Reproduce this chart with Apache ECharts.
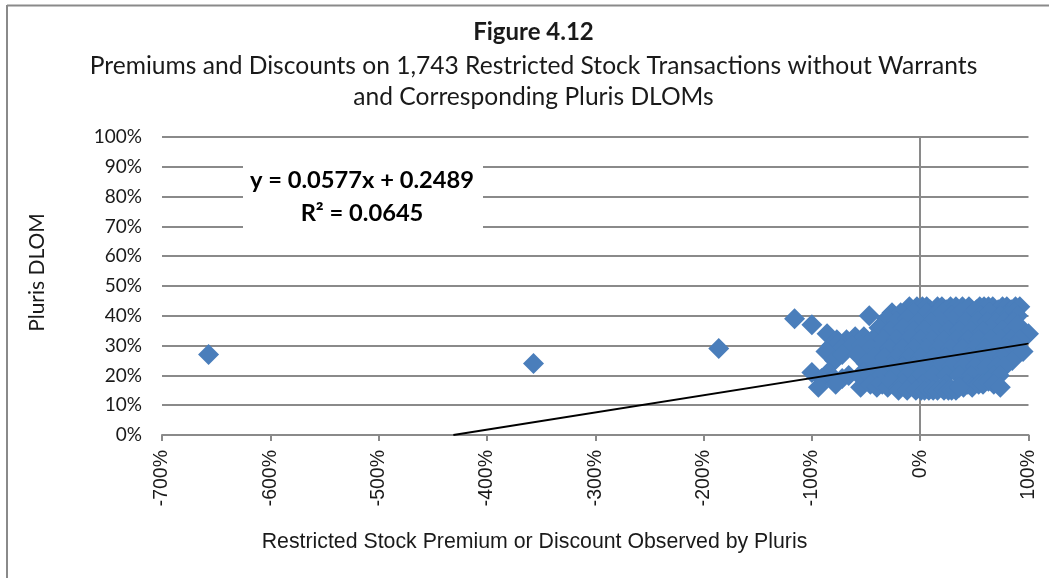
<!DOCTYPE html>
<html>
<head>
<meta charset="utf-8">
<style>html,body{margin:0;padding:0;background:#fff}#main{width:1049px;height:578px}</style>
<script src="https://cdn.jsdelivr.net/npm/echarts@6/dist/echarts.min.js"></script>
</head>
<body>
<div id="main"></div>
<script>
var myChart = echarts.init(document.getElementById('main'));

// values in percent
var outliers = [[-657, 27], [-357, 24], [-186, 29], [-116, 39], [-100, 37], [-100, 21], [-47, 40]];
var cloudTop = [
    [-10, 43], [-3, 43], [2, 43], [6, 43], [9, 42], [16, 43], [20, 43], [24, 42], [28, 43], [33, 43], [39, 43], [45, 43], [52, 42], [55, 43], [59, 43], [63, 43], [67, 43], [72, 42], [76, 43], [80, 43], [84, 42], [88, 43], [92, 43],
    [-26, 41], [-18, 41], [-6, 41], [6, 41], [13, 40], [21, 41], [29, 40], [37, 41], [49, 41], [56, 40], [64, 41], [74, 40], [81, 40], [87, 41], [90, 40],
    [-31, 39], [-22, 38], [-12, 39], [-2, 38], [10, 38], [19, 38], [31, 38], [42, 38], [53, 38], [62, 38], [70, 38], [78, 38], [86, 38], [90, 37]
];
var cloudMiddle = [
    [-38, 36], [-28, 35], [-16, 36], [-6, 35], [4, 35], [15, 35], [26, 35], [36, 35], [47, 35], [58, 35], [67, 35], [76, 35], [85, 35], [91, 36],
    [-86, 34], [-77, 32], [-68, 32], [-60, 33], [-52, 33], [-44, 32], [-34, 32], [-22, 32], [-11, 32], [0, 32], [11, 32], [22, 32], [33, 32], [44, 32], [54, 32], [65, 32], [75, 32], [84, 32], [100, 34], [92, 32],
    [-82, 30], [-75, 31], [-73, 29], [-63, 30], [-54, 30], [-46, 29], [-38, 29], [-28, 29], [-16, 29], [-5, 29], [6, 29], [17, 29], [28, 29], [39, 29], [50, 29], [60, 29], [70, 29], [80, 29], [88, 30],
    [-87, 28], [-79, 25], [-72, 27], [-58, 27], [-42, 26], [-33, 26], [-22, 26], [-11, 26], [0, 26], [12, 26], [23, 26], [34, 26], [45, 26], [56, 26], [66, 26], [76, 26], [85, 25], [95, 28],
    [-50, 24], [-38, 23], [-27, 23], [-16, 23], [-5, 23], [7, 23], [18, 23], [29, 23], [40, 23], [51, 23], [61, 23], [71, 23], [78, 23]
];
var cloudBottom = [
    [-85, 21], [-91, 19], [-80, 19], [-72, 19], [-52, 21], [-66, 20], [-56, 20], [-46, 20], [-36, 20], [-24, 20], [-12, 20], [0, 20], [12, 20], [24, 20], [36, 20], [47, 20], [58, 20], [68, 20], [73, 20],
    [-94, 16], [-78, 17], [-55, 16], [-46, 17], [-40, 16], [-35, 17], [-30, 16], [-27, 18], [-20, 16], [-16, 17], [-8, 17], [2, 17], [13, 17], [24, 17], [34, 16], [40, 16], [44, 17], [48, 16], [54, 17], [58, 17], [63, 18], [68, 17], [74, 16],
    [-20, 15], [-12, 15], [-4, 15], [1, 15], [4, 15], [8, 15], [12, 15], [16, 15], [22, 15], [26, 15], [29, 15], [33, 15], [36, 16]
];
var trendX = [-431, 100];
var trendY = [0, 30.66];
var yTicks = [0, 100];
var xTicks = [-700, 100];

var points = outliers.concat(cloudTop, cloudMiddle, cloudBottom);

var gray = '#8a8a8a';
var textColor = '#1a1a1a';

option = {
    backgroundColor: '#fff',
    animation: false,
    title: [
        {
            text: 'Figure 4.12',
            left: 528.5, top: 15, textAlign: 'center',
            textStyle: { fontFamily: 'Lato', fontSize: 24, fontWeight: 'bold', color: textColor }
        },
        {
            text: 'Premiums and Discounts on 1,743 Restricted Stock Transactions without Warrants',
            left: 528.5, top: 49, textAlign: 'center',
            textStyle: { fontFamily: 'Lato', fontSize: 24.6, fontWeight: 'normal', color: textColor }
        },
        {
            text: 'and Corresponding Pluris DLOMs',
            left: 528.5, top: 80, textAlign: 'center',
            textStyle: { fontFamily: 'Lato', fontSize: 24.6, fontWeight: 'normal', color: textColor }
        },
        {
            text: 'Restricted Stock Premium or Discount Observed by Pluris',
            left: 529.5, top: 527, textAlign: 'center',
            textStyle: { fontFamily: 'Liberation Sans', fontSize: 21.3, fontWeight: 'normal', color: textColor }
        }
    ],
    grid: { left: 162, right: 20.5, top: 137, bottom: 143, outerBoundsMode: 'none' },
    xAxis: {
        type: 'value',
        min: xTicks[0],
        max: xTicks[1],
        interval: 100,
        splitLine: { show: false },
        axisLine: { lineStyle: { color: gray, width: 2 } },
        axisTick: { show: true, length: 6, lineStyle: { color: gray, width: 2 } },
        axisLabel: {
            rotate: 90,
            margin: 15,
            formatter: '{value}%',
            fontFamily: 'Liberation Sans',
            fontSize: 19.5,
            color: textColor
        }
    },
    yAxis: [
        {
            type: 'value',
            min: yTicks[0],
            max: yTicks[1],
            interval: 10,
            axisLine: { show: false, onZero: false },
            axisTick: { show: false },
            splitLine: { show: true, lineStyle: { color: gray, width: 2 } },
            axisLabel: {
                margin: 20,
                formatter: '{value}%',
                fontFamily: 'Lato',
                fontSize: 19,
                color: textColor
            }
        },
        {
            // the vertical line at x = 0, ticks pointing left
            type: 'value',
            position: 'right',
            min: yTicks[0],
            max: yTicks[1],
            interval: 10,
            axisLine: { show: true, onZero: true, onZeroAxisIndex: 0, lineStyle: { color: gray, width: 2 } },
            axisTick: { show: true, inside: true, length: 6, lineStyle: { color: gray, width: 2 } },
            splitLine: { show: false },
            axisLabel: { show: false }
        }
    ],
    graphic: [
        { type: 'line', z: 1, shape: { x1: 7, y1: 5.5, x2: 1049, y2: 5.5 }, style: { stroke: gray, lineWidth: 2 } },
        { type: 'line', z: 1, shape: { x1: 7, y1: 5, x2: 7, y2: 578 }, style: { stroke: gray, lineWidth: 2 } },
        { type: 'rect', z: 5, shape: { x: 243, y: 152, width: 240, height: 90 }, style: { fill: '#fff' } },
        {
            type: 'text', z: 6, x: 362, y: 197,
            style: {
                text: 'y = 0.0577x + 0.2489\nR² = 0.0645',
                fill: '#000',
                font: 'bold 23.7px Lato',
                lineHeight: 33,
                align: 'center',
                verticalAlign: 'middle'
            }
        },
        {
            // y axis title sits above the middle of the axis in the original
            type: 'text', z: 6, x: 37, y: 272.5, rotation: Math.PI / 2,
            style: {
                text: 'Pluris DLOM',
                fill: textColor,
                font: '21px Lato',
                align: 'center',
                verticalAlign: 'middle'
            }
        }
    ],
    series: [
        {
            type: 'scatter',
            data: points,
            symbol: 'diamond',
            symbolSize: 21,
            itemStyle: { color: '#4a7ebb', opacity: 1 },
            z: 3
        },
        {
            type: 'line',
            data: [[trendX[0], trendY[0]], [trendX[1], trendY[1]]],
            symbol: 'none',
            lineStyle: { color: '#000', width: 2 },
            z: 4
        }
    ]
};

myChart.setOption(option);
</script>
</body>
</html>
